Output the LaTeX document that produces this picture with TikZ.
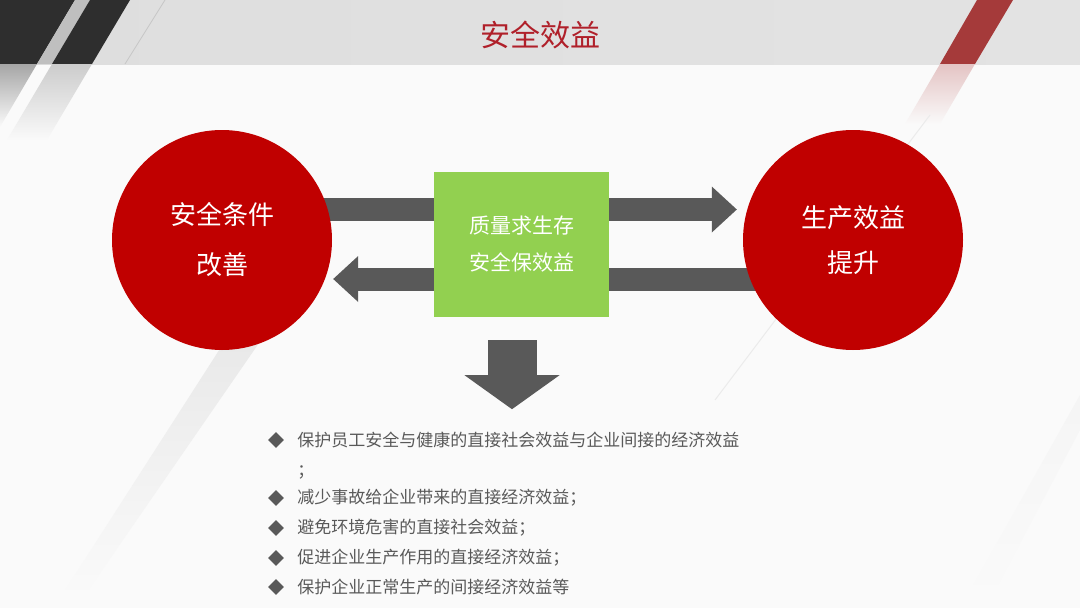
\documentclass[tikz,border=0pt]{standalone}
\usepackage{fontspec}
\setmainfont{Noto Sans CJK SC}
\usetikzlibrary{arrows.meta,positioning,shapes.geometric,calc}
\definecolor{slidered}{HTML}{C00000}
\definecolor{titlered}{HTML}{B0202A}
\definecolor{leafgreen}{HTML}{92D050}
\definecolor{arrowgray}{HTML}{595959}
\definecolor{stripered}{HTML}{A53A3A}
\pgfdeclarelayer{bg}
\pgfdeclarelayer{links}
\pgfsetlayers{bg,links,main}

\begin{document}
\begin{tikzpicture}[x=1pt, y=-1pt,
  circ/.style={circle, fill=slidered, minimum size=220pt, inner sep=0pt, text=white, align=center, font=\fontsize{26}{50}\selectfont},
  hub/.style={fill=leafgreen, minimum width=175pt, minimum height=145pt, inner sep=0pt, text=white, align=center, font=\fontsize{21}{37}\selectfont},
  dot/.style={diamond, fill=arrowgray, minimum width=16pt, minimum height=16pt, inner sep=0pt},
  item/.style={anchor=west, inner sep=0pt, text=arrowgray, font=\fontsize{17}{20}\selectfont},
  arr/.style={arrowgray, line width=23pt, -{Triangle[length=25pt, width=46pt, line width=0pt]}},
  bigarr/.style={arrowgray, line width=49pt, -{Triangle[length=34pt, width=95pt, line width=0pt]}}
]
\useasboundingbox (0,0) rectangle (1080,608);

% slide background
\begin{pgfonlayer}{bg}
\fill[white!98!black] (0,0) rectangle (1080,608);
\shade[left color=black!13, middle color=black!6, right color=black!11] (0,0) rectangle (1080,64);
\fill[black!82] (0,0) -- (75,0) -- (37,64) -- (0,64) -- cycle;
\fill[black!25] (75,0) -- (90,0) -- (52,64) -- (37,64) -- cycle;
\fill[black!82] (90,0) -- (130,0) -- (92,64) -- (52,64) -- cycle;
\shade[top color=black!35, bottom color=white!98!black] (0,64) -- (37,64) -- (0,127) -- cycle;
\shade[top color=black!20, bottom color=white!98!black] (52,64) -- (92,64) -- (47,140) -- (7,140) -- cycle;
\draw[black!22, line width=0.8pt] (165,0) -- (125,64);
\fill[stripered] (977,0) -- (1013,0) -- (975,64) -- (940,64) -- cycle;
\shade[top color=stripered!30, bottom color=white!98!black] (940,64) -- (975,64) -- (940,124) -- (905,124) -- cycle;
\draw[black!8, line width=1pt] (930,115) -- (715,400);
\shade[top color=black!9, bottom color=white!98!black] (232,330) -- (268,330) -- (85,595) -- (62,595) -- cycle;
\shade[top color=black!4, bottom color=white!98!black] (1080,395) -- (1080,430) -- (990,600) -- (965,600) -- cycle;
\end{pgfonlayer}

\node[text=titlered, font=\fontsize{30}{32}\selectfont] (title) at (540,35) {安全效益};

\node[circ] (lc) at (222,240) {安全条件\\改善};
\node[circ, font=\fontsize{26}{45}\selectfont] (rc) at (853,240) {生产效益\\提升};
\node[hub] (core) at (521.5,244.5) {质量求生存\\安全保效益};

\begin{pgfonlayer}{links}
\draw[arr] ($(lc.center)+(0,-30.5)$) -- ($(rc.west)+(-6,-30.5)$);
\draw[arr] ($(rc.center)+(0,39)$) -- ($(lc.east)+(1,39)$);
\end{pgfonlayer}
\draw[bigarr] ($(core.south)+(-9.5,23)$) -- ($(core.south)+(-9.5,92)$);

\node[dot] (b1) at (276,440) {};
\node[item, right=13pt of b1] (t1) {保护员工安全与健康的直接社会效益与企业间接的经济效益};
\node[item] (t1b) at ($(t1.west)+(0,32)$) {；};
\foreach \i/\y/\txt in {2/498/减少事故给企业带来的直接经济效益；,
                        3/528/避免环境危害的直接社会效益；,
                        4/558/促进企业生产作用的直接经济效益；,
                        5/587/保护企业正常生产的间接经济效益等} {
  \node[dot] (b\i) at (276,\y) {};
  \node[item, right=13pt of b\i] (t\i) {\txt};
}
\end{tikzpicture}
\end{document}
